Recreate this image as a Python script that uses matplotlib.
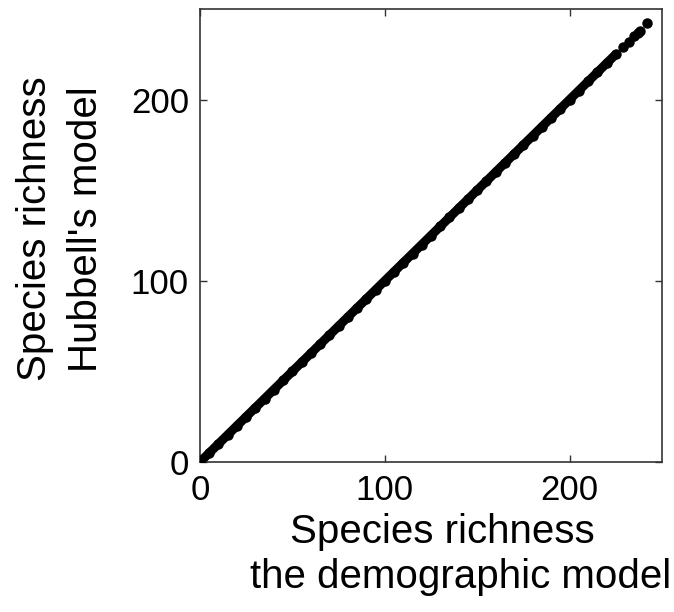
#!/usr/bin/env python3
"""Species richness: Hubbell's model vs the demographic model."""
import matplotlib
matplotlib.use('Agg')
import matplotlib.pyplot as plt

# ── data ───────────────────────────────────────────────────────────────────
richness_demographic = [0, 5, 10, 15, 20, 25, 30, 35, 40, 45, 50, 55, 60, 65,
                        70, 75, 80, 85, 90, 95, 100, 105, 110, 115, 120, 125,
                        130, 135, 140, 145, 150, 155, 160, 165, 170, 175, 180,
                        185, 190, 195, 200, 205, 210, 215, 220, 225, 229, 232,
                        235, 237, 238, 242]
richness_hubbell = [0, 5, 10, 15, 20, 25, 30, 35, 40, 45, 50, 55, 60, 65,
                    70, 75, 80, 85, 90, 95, 100, 105, 110, 115, 120, 125,
                    130, 135, 140, 145, 150, 155, 160, 165, 170, 175, 180,
                    185, 190, 195, 200, 205, 210, 215, 220, 225, 229, 232,
                    235, 237, 238, 242]

x_ticks = [0, 100, 200]
y_ticks = [0, 100, 200]

FONT = 'Liberation Sans'
plt.rcParams['font.family'] = [FONT, 'DejaVu Sans']

fig = plt.figure(figsize=(6.74, 6.12), dpi=100, facecolor='white')
ax = fig.add_axes([200 / 674, 1 - 462 / 612, 462 / 674, 453 / 612])

# dense band (line) + dots for the sparse tail
ax.plot(richness_demographic[:46], richness_hubbell[:46], color='black',
        lw=6.5, solid_capstyle='round', zorder=3)
ax.plot(richness_demographic, richness_hubbell, 'o', color='black',
        ms=6.5, mec='black', zorder=3)

ax.set_xlim(0, 250)
ax.set_ylim(0, 250)
ax.set_xticks(x_ticks)
ax.set_yticks(y_ticks)
ax.tick_params(direction='in', length=5, width=1, top=True, right=True,
               labelsize=25, color='#333333')
ax.tick_params(axis='x', pad=9)
ax.tick_params(axis='y', pad=8)
for s in ax.spines.values():
    s.set_linewidth(1.2)
    s.set_color('#333333')

fig.text(442 / 674, 1 - 532 / 612, 'Species richness', ha='center',
         va='center', fontsize=29)
fig.text(461 / 674, 1 - 577 / 612, 'the demographic model', ha='center',
         va='center', fontsize=29)
fig.text(35 / 674, 1 - 229 / 612, 'Species richness', ha='center',
         va='center', fontsize=29, rotation=90)
fig.text(86 / 674, 1 - 229 / 612, "Hubbell's model", ha='center',
         va='center', fontsize=29, rotation=90)

fig.savefig('out.png', dpi=100, facecolor='white')
plt.close(fig)
